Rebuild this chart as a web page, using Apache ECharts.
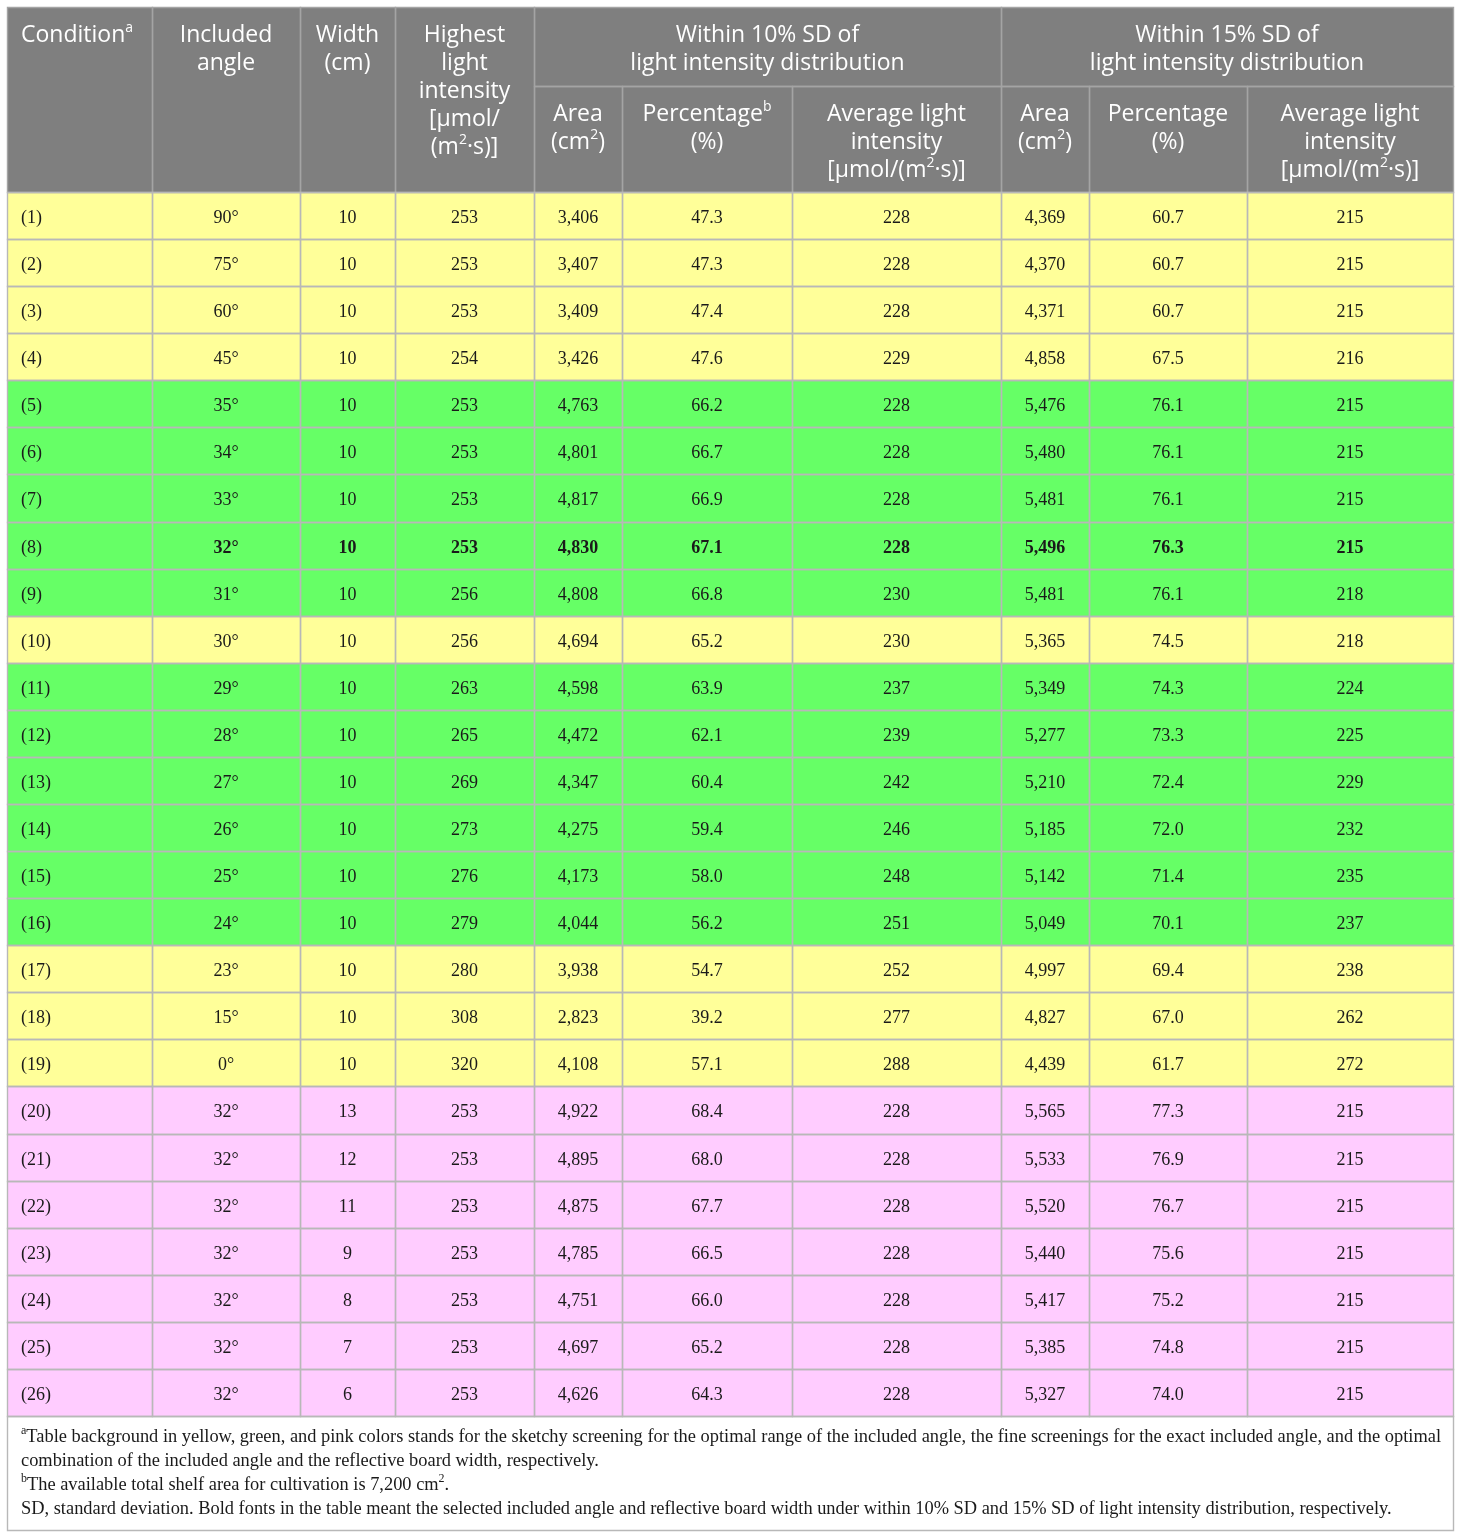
<!DOCTYPE html>
<html>
<head>
<meta charset="utf-8">
<script src="https://cdn.jsdelivr.net/npm/echarts@6.0.0/dist/echarts.min.js"></script>
<style>
html, body { margin: 0; padding: 0; background: #fff; }
#main { width: 1460px; height: 1537px; }
</style>
</head>
<body>
<div id="main"></div>
<script>
// table values, one list per column
var conditions = ['(1)', '(2)', '(3)', '(4)', '(5)', '(6)', '(7)', '(8)', '(9)', '(10)', '(11)', '(12)', '(13)',
    '(14)', '(15)', '(16)', '(17)', '(18)', '(19)', '(20)', '(21)', '(22)', '(23)', '(24)', '(25)', '(26)'];
var angles = [90, 75, 60, 45, 35, 34, 33, 32, 31, 30, 29, 28, 27, 26, 25, 24, 23, 15, 0, 32, 32, 32, 32, 32, 32, 32];
var widths = [10, 10, 10, 10, 10, 10, 10, 10, 10, 10, 10, 10, 10, 10, 10, 10, 10, 10, 10, 13, 12, 11, 9, 8, 7, 6];
var highest = [253, 253, 253, 254, 253, 253, 253, 253, 256, 256, 263, 265, 269, 273, 276, 279, 280, 308, 320,
    253, 253, 253, 253, 253, 253, 253];
var area10 = [3406, 3407, 3409, 3426, 4763, 4801, 4817, 4830, 4808, 4694, 4598, 4472, 4347, 4275, 4173, 4044,
    3938, 2823, 4108, 4922, 4895, 4875, 4785, 4751, 4697, 4626];
var pct10 = [47.3, 47.3, 47.4, 47.6, 66.2, 66.7, 66.9, 67.1, 66.8, 65.2, 63.9, 62.1, 60.4, 59.4, 58.0, 56.2,
    54.7, 39.2, 57.1, 68.4, 68.0, 67.7, 66.5, 66.0, 65.2, 64.3];
var avg10 = [228, 228, 228, 229, 228, 228, 228, 228, 230, 230, 237, 239, 242, 246, 248, 251, 252, 277, 288,
    228, 228, 228, 228, 228, 228, 228];
var area15 = [4369, 4370, 4371, 4858, 5476, 5480, 5481, 5496, 5481, 5365, 5349, 5277, 5210, 5185, 5142, 5049,
    4997, 4827, 4439, 5565, 5533, 5520, 5440, 5417, 5385, 5327];
var pct15 = [60.7, 60.7, 60.7, 67.5, 76.1, 76.1, 76.1, 76.3, 76.1, 74.5, 74.3, 73.3, 72.4, 72.0, 71.4, 70.1,
    69.4, 67.0, 61.7, 77.3, 76.9, 76.7, 75.6, 75.2, 74.8, 74.0];
var avg15 = [215, 215, 215, 216, 215, 215, 215, 215, 218, 218, 224, 225, 229, 232, 235, 237, 238, 262, 272,
    215, 215, 215, 215, 215, 215, 215];
// Y = sketchy screening, G = fine screening, P = angle/width combination
var groups = ['Y', 'Y', 'Y', 'Y', 'G', 'G', 'G', 'G', 'G', 'Y', 'G', 'G', 'G', 'G', 'G', 'G', 'Y', 'Y', 'Y',
    'P', 'P', 'P', 'P', 'P', 'P', 'P'];
var boldRow = 7;

var headerTexts = [
    'Condition{s|a}',
    'Included\nangle',
    'Width\n(cm)',
    'Highest\nlight\nintensity\n[\u00b5mol/\n(m{s|2}\u00b7s)]',
    'Within 10% SD of\nlight intensity distribution',
    'Within 15% SD of\nlight intensity distribution',
    'Area\n(cm{s|2})',
    'Percentage{s|b}\n(%)',
    'Average light\nintensity\n[\u00b5mol/(m{s|2}\u00b7s)]',
    'Area\n(cm{s|2})',
    'Percentage\n(%)',
    'Average light\nintensity\n[\u00b5mol/(m{s|2}\u00b7s)]'
];

var footnote = '{s|a}Table background in yellow, green, and pink colors stands for the sketchy screening for the optimal range of the included angle, the fine screenings for the exact included angle, and the optimal\n' +
    'combination of the included angle and the reflective board width, respectively.\n' +
    '{s|b}The available total shelf area for cultivation is 7,200 cm{s|2}.\n' +
    'SD, standard deviation. Bold fonts in the table meant the selected included angle and reflective board width under within 10% SD and 15% SD of light intensity distribution, respectively.';

// layout (table units = px)
var colEdges = [0, 145, 293, 388, 527, 615, 785, 994, 1082, 1240, 1446];
var headSplit = 79, headBottom = 185, tableBottom = 1409, totalH = 1523;
var rowH = (tableBottom - headBottom) / conditions.length;
var fillColors = {Y: '#ffff99', G: '#66ff66', P: '#ffccff'};

var fmtComma = function (v) {
    return v.toLocaleString('en-US');
};

// body cells
var bodyData = [], bodyText = [], bodyFill = [], bodyBold = [], bodyLeft = [];
for (var r = 0; r < conditions.length; r++) {
    var cells = [conditions[r], angles[r] + '\u00b0', String(widths[r]), String(highest[r]),
        fmtComma(area10[r]), pct10[r].toFixed(1), String(avg10[r]),
        fmtComma(area15[r]), pct15[r].toFixed(1), String(avg15[r])];
    for (var c = 0; c < cells.length; c++) {
        bodyData.push([colEdges[c], headBottom + r * rowH, colEdges[c + 1], headBottom + (r + 1) * rowH]);
        bodyText.push(cells[c]);
        bodyFill.push(fillColors[groups[r]]);
        bodyBold.push(r === boldRow && c > 0);
        bodyLeft.push(c === 0);
    }
}

// header cells: [x0, y0, x1, y1]
var headerData = [
    [colEdges[0], 0, colEdges[1], headBottom],
    [colEdges[1], 0, colEdges[2], headBottom],
    [colEdges[2], 0, colEdges[3], headBottom],
    [colEdges[3], 0, colEdges[4], headBottom],
    [colEdges[4], 0, colEdges[7], headSplit],
    [colEdges[7], 0, colEdges[10], headSplit],
    [colEdges[4], headSplit, colEdges[5], headBottom],
    [colEdges[5], headSplit, colEdges[6], headBottom],
    [colEdges[6], headSplit, colEdges[7], headBottom],
    [colEdges[7], headSplit, colEdges[8], headBottom],
    [colEdges[8], headSplit, colEdges[9], headBottom],
    [colEdges[9], headSplit, colEdges[10], headBottom]
];

// pixel box of a cell, snapped to whole pixels
var cellBox = function (api) {
    var p0 = api.coord([api.value(0), api.value(1)]);
    var p1 = api.coord([api.value(2), api.value(3)]);
    var x0 = Math.round(p0[0]), y0 = Math.round(p0[1]);
    return {x: x0, y: y0, width: Math.round(p1[0]) - x0, height: Math.round(p1[1]) - y0};
};

// fill first, border on top (z2), then text
var cellShapes = function (b, fill, stroke) {
    return [{
        type: 'rect',
        z2: 0,
        shape: b,
        style: {fill: fill}
    }, {
        type: 'rect',
        z2: 5,
        shape: {x: b.x + 0.5, y: b.y + 0.5, width: b.width, height: b.height},
        style: {fill: null, stroke: stroke, lineWidth: 1.4}
    }];
};

var chart = echarts.init(document.getElementById('main'));
chart.setOption({
    backgroundColor: '#ffffff',
    animation: false,
    grid: {left: 7, top: 7, width: 1446, height: totalH},
    xAxis: {type: 'value', min: 0, max: colEdges[colEdges.length - 1], show: false},
    yAxis: {type: 'value', min: 0, max: totalH, inverse: true, show: false},
    series: [{
        type: 'custom',
        name: 'header',
        silent: true,
        data: headerData,
        renderItem: function (params, api) {
            var b = cellBox(api);
            var left = params.dataIndex === 0;
            var children = cellShapes(b, '#7f7f7f', '#a4a4a4');
            children.push({
                type: 'text',
                z2: 10,
                style: {
                    text: headerTexts[params.dataIndex],
                    x: left ? b.x + 14 : b.x + b.width / 2,
                    y: b.y + 14,
                    align: left ? 'left' : 'center',
                    verticalAlign: 'top',
                    font: "23px 'Open Sans'",
                    lineHeight: 28,
                    fill: '#ffffff',
                    rich: {
                        s: {font: "14px 'Open Sans'", lineHeight: 20, verticalAlign: 'top', fill: '#ffffff'}
                    }
                }
            });
            return {type: 'group', children: children};
        }
    }, {
        type: 'custom',
        name: 'body',
        silent: true,
        data: bodyData,
        renderItem: function (params, api) {
            var b = cellBox(api);
            var i = params.dataIndex;
            var children = cellShapes(b, bodyFill[i], '#b8b8b8');
            children.push({
                type: 'text',
                z2: 10,
                style: {
                    text: bodyText[i],
                    x: bodyLeft[i] ? b.x + 14 : b.x + b.width / 2,
                    y: b.y + b.height / 2 + 2.5,
                    align: bodyLeft[i] ? 'left' : 'center',
                    verticalAlign: 'middle',
                    font: (bodyBold[i] ? 'bold ' : '') + "18px 'Liberation Serif'",
                    fill: '#1a1a1a'
                }
            });
            return {type: 'group', children: children};
        }
    }, {
        type: 'custom',
        name: 'footnote',
        silent: true,
        data: [[colEdges[0], tableBottom, colEdges[10], totalH]],
        renderItem: function (params, api) {
            var b = cellBox(api);
            var children = cellShapes(b, '#ffffff', '#b8b8b8');
            children.push({
                type: 'text',
                z2: 10,
                style: {
                    text: footnote,
                    x: b.x + 14,
                    y: b.y + 9,
                    align: 'left',
                    verticalAlign: 'top',
                    font: "18.4px 'Liberation Serif'",
                    lineHeight: 24,
                    fill: '#1a1a1a',
                    rich: {
                        s: {font: "12px 'Liberation Serif'", lineHeight: 16, verticalAlign: 'top', fill: '#1a1a1a'}
                    }
                }
            });
            return {type: 'group', children: children};
        }
    }]
});
</script>
</body>
</html>
